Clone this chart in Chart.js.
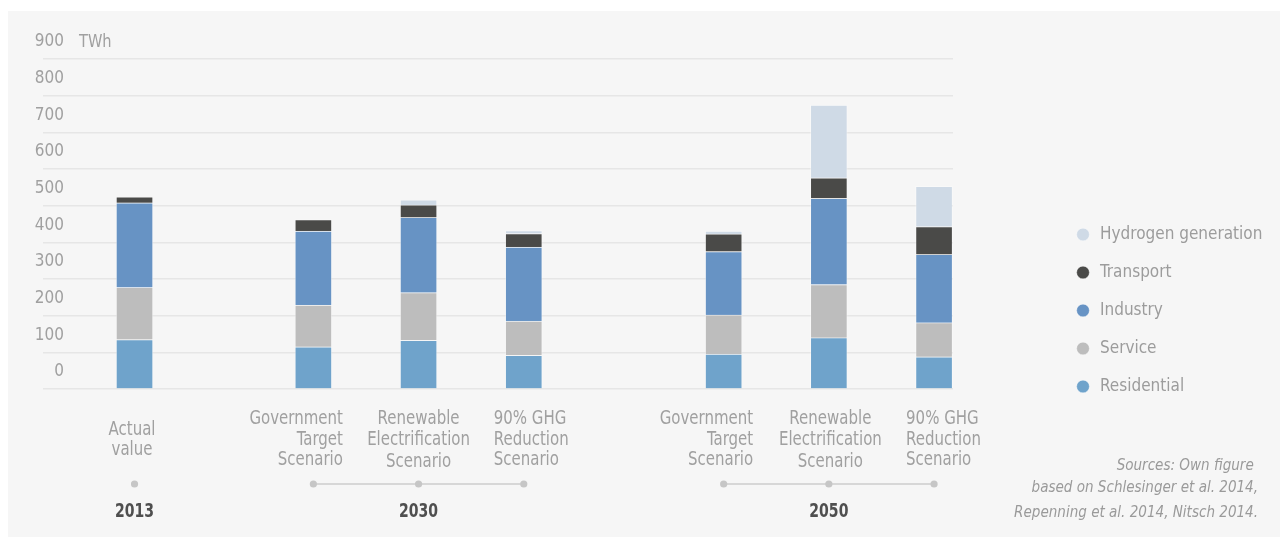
<!DOCTYPE html>
<html><head><meta charset="utf-8">
<script src="https://cdn.jsdelivr.net/npm/chart.js@4.4.1/dist/chart.umd.min.js"></script>
<style>
html,body{margin:0;padding:0;background:#ffffff;width:1280px;height:537px;overflow:hidden}
#panel{position:absolute;left:8px;top:11px;right:0;bottom:0;background:#f6f6f6}
#c{position:absolute;left:0;top:0}
</style></head><body>
<div id="panel"></div>
<canvas id="c" width="1280" height="537"></canvas>
<script>
// ---------------- DATA ----------------
const categories = [
  ['Actual', 'value'],
  ['Government', 'Target', 'Scenario'],
  ['Renewable', 'Electrification', 'Scenario'],
  ['90% GHG', 'Reduction', 'Scenario'],
  ['Government', 'Target', 'Scenario'],
  ['Renewable', 'Electrification', 'Scenario'],
  ['90% GHG', 'Reduction', 'Scenario']
];
const years = ['2013', '2030', '2030', '2030', '2050', '2050', '2050'];
const seriesNames = ['Residential', 'Service', 'Industry', 'Transport', 'Hydrogen generation'];
const residential = [135, 115, 133, 92, 95, 140, 88];
const service     = [142, 114, 130, 93, 107, 145, 93];
const industry    = [231, 202, 205, 202, 173, 235, 186];
const transport   = [16, 31, 34, 37, 48, 56, 76];
const hydrogen    = [0, 0, 14, 8, 8, 198, 110];
const yTicks = [0, 100, 200, 300, 400, 500, 600, 700, 800, 900];
const unitLabel = 'TWh';
const sourceLines = ['Sources: Own figure ', 'based on Schlesinger et al. 2014,', 'Repenning et al. 2014, Nitsch 2014.'];

// ---------------- LAYOUT / STYLE ----------------
const FONT = "'DejaVu Sans Condensed', 'DejaVu Sans', sans-serif";
const seriesColors = ['#6fa3cb', '#bdbdbd', '#6793c4', '#4a4a48', '#cfdae6'];
const GROUP_GAP = { '2013': 0, '2030': 0.7, '2050': 0.9 };
const X_MIN = -0.87, X_MAX = 7.78;
const LABEL_ALIGN = ['center', 'right', 'center', 'left', 'right', 'center', 'left'];
const LABEL_DX = [-2.5, 29.5, 0, -30, 29.5, 1.5, -28];
const TEXT_GREY = '#a0a0a0';
const LEGEND_FS = 17, LEGEND_PAD = 21, LEGEND_BOX = 17, LEGEND_LEFT = 1053.5;
const SPACER_W = 100.5;
const PLOT_LEFT = 43, YLABEL_RIGHT = 64, YTICK_FS = 17;

const mctx = document.createElement('canvas').getContext('2d');
// legend width -> right padding so that the legend starts at LEGEND_LEFT
mctx.font = LEGEND_FS + 'px ' + FONT;
const maxLegendText = Math.max.apply(null, seriesNames.map(function (n) { return mctx.measureText(n).width; }));
const legendW = LEGEND_PAD + LEGEND_BOX + LEGEND_FS / 2 + maxLegendText + 10;
const PAD_RIGHT = Math.max(0, 1280 - LEGEND_LEFT - legendW);
// y tick labels are right-aligned at YLABEL_RIGHT (mirror + crossAlign far)
mctx.font = YTICK_FS + 'px ' + FONT;
const widestTick = Math.max.apply(null, yTicks.map(function (v) { return mctx.measureText(String(v)).width; }));
const YTICK_PAD = YLABEL_RIGHT - PLOT_LEFT - widestTick;

// category positions on the linear index axis (structure + group gaps)
const xPos = [];
(function () {
  let cur = 0, prev = null;
  years.forEach(function (y) {
    if (prev !== null) { cur += 1; if (y !== prev) cur += GROUP_GAP[y]; }
    xPos.push(cur); prev = y;
  });
})();

const seriesValues = [residential, service, industry, transport, hydrogen];
const datasets = seriesNames.map(function (name, k) {
  return {
    label: name,
    data: seriesValues[k].map(function (v, i) { return { x: xPos[i], y: v }; }),
    backgroundColor: seriesColors[k],
    borderColor: 'rgba(255,255,255,0.35)',
    borderWidth: 1,
    barThickness: 37
  };
});

function drawText(ctx, text, x, y, align, sx) {
  ctx.save();
  ctx.translate(x, y);
  ctx.scale(sx, 1);
  ctx.textAlign = align;
  ctx.fillText(text, 0, 0);
  ctx.restore();
}

const annotations = {
  id: 'annotations',
  afterDraw: function (chart) {
    const ctx = chart.ctx, xs = chart.scales.x, ys = chart.scales.y;
    ctx.save();
    ctx.textBaseline = 'middle';
    // unit label next to the top tick
    ctx.fillStyle = TEXT_GREY;
    ctx.font = "18px " + FONT;
    drawText(ctx, unitLabel, 79, ys.getPixelForValue(yTicks[yTicks.length - 1]) - 17, 'left', 0.9);

    // category labels
    ctx.font = "19px " + FONT;
    categories.forEach(function (lines, i) {
      const cx = xs.getPixelForValue(xPos[i]) + LABEL_DX[i];
      const lh = 20.5;
      const y0 = 440 - (lines.length - 1) * lh / 2;
      lines.forEach(function (t, j) {
        const extra = (LABEL_ALIGN[i] === 'center' && j === 2) ? 2 : 0;
        drawText(ctx, t, cx, y0 + j * lh + extra, LABEL_ALIGN[i], 0.877);
      });
    });

    // group connectors, dots and year labels
    const groups = [];
    years.forEach(function (y, i) {
      const g = groups.length && groups[groups.length - 1].year === y ? groups[groups.length - 1] : null;
      if (g) g.idx.push(i); else groups.push({ year: y, idx: [i] });
    });
    const dotY = 484;
    groups.forEach(function (g) {
      const px = g.idx.map(function (i) { return xs.getPixelForValue(xPos[i]); });
      if (px.length > 1) {
        ctx.strokeStyle = '#cccccc';
        ctx.lineWidth = 1.5;
        ctx.beginPath();
        ctx.moveTo(px[0], dotY);
        ctx.lineTo(px[px.length - 1], dotY);
        ctx.stroke();
      }
      ctx.fillStyle = '#c6c6c6';
      px.forEach(function (x) {
        ctx.beginPath(); ctx.arc(x, dotY, 3.6, 0, Math.PI * 2); ctx.fill();
      });
      const mid = (px[0] + px[px.length - 1]) / 2;
      ctx.fillStyle = '#4f4f4f';
      ctx.font = "bold 20px " + FONT;
      drawText(ctx, g.year, mid, 512, 'center', 0.78);
    });

    // sources
    ctx.fillStyle = '#9a9a9a';
    ctx.font = "italic 16px " + FONT;
    const sy = [466, 488, 512.5];
    sourceLines.forEach(function (t, j) { drawText(ctx, t, 1258, sy[j], 'right', 0.94); });
    ctx.restore();
  }
};

new Chart(document.getElementById('c'), {
  type: 'bar',
  data: { datasets: datasets },
  plugins: [annotations],
  options: {
    responsive: false,
    animation: false,
    layout: { padding: { left: PLOT_LEFT, top: 59, right: PAD_RIGHT, bottom: 121 } },
    scales: {
      x: {
        type: 'linear', stacked: true, min: X_MIN, max: X_MAX, offset: false,
        grid: { display: false, drawTicks: false, offset: false },
        border: { display: false },
        ticks: { display: false },
        afterFit: function (s) { s.height = 27; }
      },
      y: {
        stacked: true, min: 0, max: 900, position: 'left',
        afterBuildTicks: function (s) { s.ticks = yTicks.map(function (v) { return { value: v }; }); },
        ticks: {
          mirror: true, crossAlign: 'far', padding: YTICK_PAD, labelOffset: -17,
          color: TEXT_GREY, font: { family: FONT, size: YTICK_FS }, autoSkip: false
        },
        grid: { color: '#e6e6e6', lineWidth: 1.5, drawTicks: false },
        border: { display: false },
        afterFit: function (s) { s.width = 0; }
      },
      spacer: {
        type: 'linear', position: 'right', display: true,
        grid: { display: false, drawOnChartArea: false, drawTicks: false },
        border: { display: false },
        ticks: { display: false },
        afterFit: function (s) { s.width = SPACER_W; }
      }
    },
    plugins: {
      tooltip: { enabled: false },
      legend: {
        position: 'right', align: 'end', reverse: true, maxWidth: 400,
        labels: {
          usePointStyle: true, pointStyle: 'circle', boxWidth: LEGEND_BOX, boxHeight: 9,
          padding: LEGEND_PAD, color: '#9c9c9c', font: { family: FONT, size: LEGEND_FS }
        }
      }
    }
  }
});
</script>
</body></html>
